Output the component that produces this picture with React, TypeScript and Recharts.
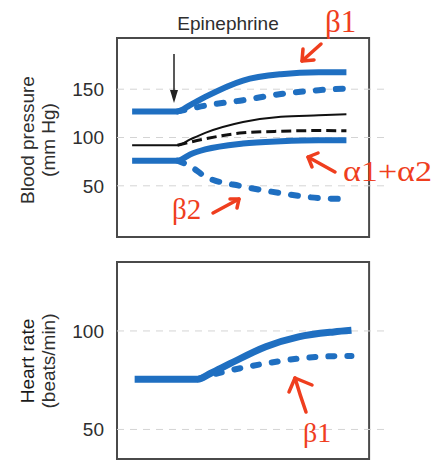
import { LineChart, Line, XAxis, YAxis, ReferenceLine, ReferenceArea } from "recharts";

// blood pressure panel (time in arbitrary units, box spans 0..100)
const bpTime = [6, 24, 29, 35, 50, 65, 80, 91];
const bpSolidHigh = [127, 127, 133.5, 142, 159, 165.5, 167.5, 167.5];
const bpDashHigh = [null, 127, 129.7, 133, 138.6, 145, 149, 150.7];
const bpSolidMean = [92, 92, 98, 104.8, 116, 121.5, 123, 124];
const bpDashMean = [null, 92, 95.2, 98.6, 104.8, 106.5, 107.2, 107];
const bpSolidLow = [76, 76, 82.5, 87.6, 93.8, 96.2, 97.2, 97.2];
const bpDashLow = [null, 76, 70.4, 59.6, 49.3, 42.4, 37.3, 36.3];
const bpTicks = [50, 100, 150];

// heart rate panel
const hrTime = [7, 32, 37, 45, 59, 72, 86, 93];
const hrSolid = [75.5, 75.5, 78.4, 83.5, 92, 97, 99.5, 100.3];
const hrDash = [null, 75.5, 77.5, 80, 83.5, 86, 87.2, 87.3];
const hrTicks = [50, 100];

const BLUE = "#1f6fc1";
const RED = "#ef3e1e";
const INK = "#2e2e2e";
const SANS = "'Liberation Sans', Arial, sans-serif";
const SERIF = "'Liberation Serif', 'Times New Roman', serif";

const bpData = bpTime.map((t, i) => ({
  t,
  solidHigh: bpSolidHigh[i],
  dashHigh: bpDashHigh[i],
  solidMean: bpSolidMean[i],
  dashMean: bpDashMean[i],
  solidLow: bpSolidLow[i],
  dashLow: bpDashLow[i],
}));

const hrData = hrTime.map((t, i) => ({ t, solid: hrSolid[i], dash: hrDash[i] }));

const tickStyle = { fontSize: 19, fill: INK, fontFamily: SANS };

function Panel({
  data,
  domain,
  ticks,
  height,
  margin,
  children,
}: {
  data: any[];
  domain: [number, number];
  ticks: number[];
  height: number;
  margin: { top: number; right: number; bottom: number; left: number };
  children: React.ReactNode;
}) {
  return (
    <LineChart width={448} height={height} data={data} margin={margin}>
      <XAxis type="number" dataKey="t" domain={[0, 107.1]} hide />
      <YAxis
        type="number"
        domain={domain}
        ticks={ticks}
        width={60}
        tickLine={false}
        axisLine={false}
        tickSize={0}
        tickMargin={13}
        tick={tickStyle}
        allowDataOverflow
      />
      {ticks.map((v) => (
        <ReferenceLine key={v} y={v} stroke="#d4d4d4" strokeWidth={1} strokeDasharray="7 6" />
      ))}
      <ReferenceArea
        x1={0}
        x2={100}
        y1={domain[0]}
        y2={domain[1]}
        fill="none"
        stroke="#4a4a4a"
        strokeWidth={2}
        ifOverflow="visible"
      />
      {children}
    </LineChart>
  );
}

const solid = (key: string, color: string, w: number) => (
  <Line
    key={key}
    dataKey={key}
    type="monotone"
    stroke={color}
    strokeWidth={w}
    dot={false}
    activeDot={false}
    isAnimationActive={false}
  />
);

const dashed = (key: string, color: string, w: number, dash: string, cap: "round" | "butt") => (
  <Line
    key={key}
    dataKey={key}
    type="monotone"
    stroke={color}
    strokeWidth={w}
    strokeDasharray={dash}
    strokeLinecap={cap}
    dot={false}
    activeDot={false}
    isAnimationActive={false}
  />
);

export default function App() {
  return (
    <div style={{ position: "absolute", left: 0, top: 0, width: 448, height: 462, background: "#fff" }}>
      <div style={{ position: "absolute", left: 0, top: 0 }}>
        <Panel data={bpData} domain={[-3, 203]} ticks={bpTicks} height={250} margin={{ top: 38, right: 61, bottom: 13, left: 57 }}>
          {dashed("dashHigh", BLUE, 6, "7 13", "round")}
          {dashed("dashMean", "#111", 3, "10 5", "butt")}
          {dashed("dashLow", BLUE, 6, "7 13", "round")}
          {solid("solidHigh", BLUE, 6)}
          {solid("solidMean", "#111", 2)}
          {solid("solidLow", BLUE, 6)}
        </Panel>
      </div>
      <div style={{ position: "absolute", left: 0, top: 250 }}>
        <Panel data={hrData} domain={[35, 135]} ticks={hrTicks} height={212} margin={{ top: 12, right: 61, bottom: 3, left: 57 }}>
          {dashed("dash", BLUE, 6, "6 13", "round")}
          {solid("solid", BLUE, 7)}
        </Panel>
      </div>

      <svg width={448} height={462} style={{ position: "absolute", left: 0, top: 0, pointerEvents: "none" }}>
        <text x={228} y={30} textAnchor="middle" fontSize={19} fontFamily={SANS} fill={INK}>
          Epinephrine
        </text>

        <g fontSize={19} fontFamily={SANS} fill={INK} textAnchor="middle" dominantBaseline="central">
          <text transform="translate(27,140) rotate(-90)">Blood pressure</text>
          <text transform="translate(48,140) rotate(-90)">(mm Hg)</text>
          <text transform="translate(27,361) rotate(-90)" fill="#1a1a1a">Heart rate</text>
          <text transform="translate(48,361) rotate(-90)">(beats/min)</text>
        </g>

        {/* injection marker */}
        <line x1={174} y1={54} x2={174} y2={94} stroke="#222" strokeWidth={1.5} />
        <path d="M170,90 L174,103 L178,90 Z" fill="#222" />

        {/* receptor annotations */}
        <g fill={RED} fontFamily={SERIF}>
          <text x={325} y={32} fontSize={31}>β1</text>
          <text x={343} y={181} fontSize={30} textLength={89} lengthAdjust="spacingAndGlyphs">α1+α2</text>
          <text x={172} y={219} fontSize={29}>β2</text>
          <text x={303} y={442} fontSize={28}>β1</text>
        </g>
        <g stroke={RED} strokeWidth={3.5} fill="none" strokeLinecap="round" strokeLinejoin="round">
          <path d="M321,44 L302,61" />
          <path d="M303,49 L302,61 L314,60" />
          <path d="M335,172 L308,157" />
          <path d="M318,153 L308,157 L312,167" />
          <path d="M213,213 L239,199" />
          <path d="M230,199 L239,199 L237,208" />
          <path d="M306,412 Q300,395 295,378" />
          <path d="M289,392 L295,378 L312,385" />
        </g>
      </svg>
    </div>
  );
}
